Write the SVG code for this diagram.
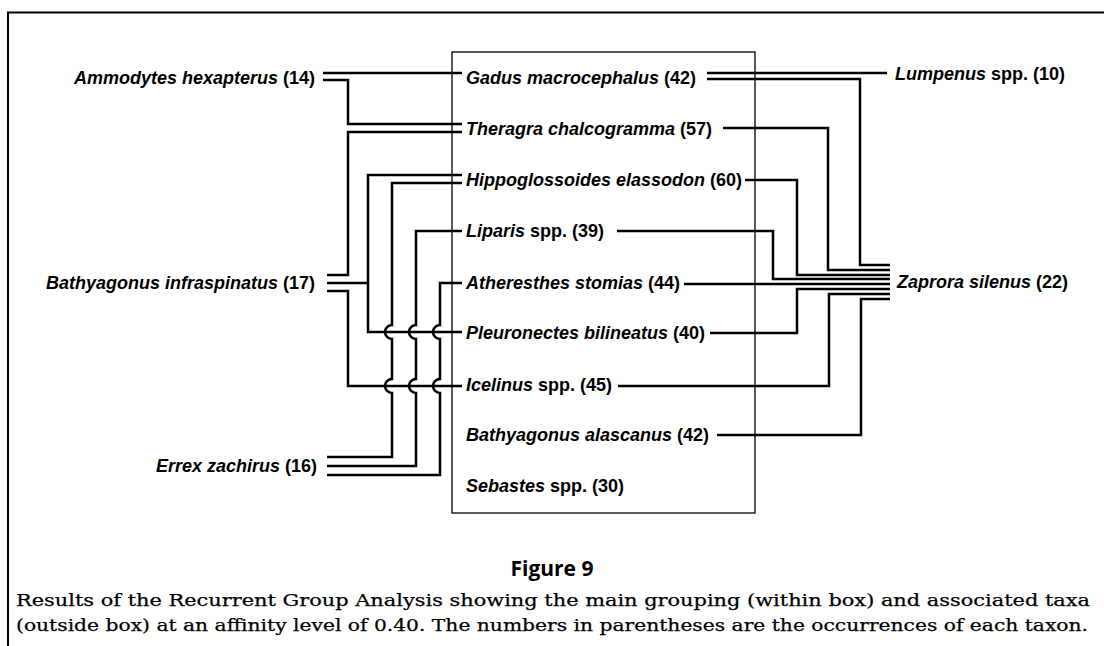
<svg xmlns="http://www.w3.org/2000/svg" width="1104" height="646" viewBox="0 0 1104 646">
<style>
.t{font-family:"Liberation Sans",Arial,sans-serif;font-size:18px;font-weight:bold;fill:#000}
.i{font-style:italic}
.c{fill:none;stroke:#000;stroke-width:2.5;stroke-linejoin:miter}
.cap{font-family:"DejaVu Serif","Liberation Serif",serif;font-size:17.5px;fill:#000;stroke:#000;stroke-width:0.25}
.fig{font-family:"Open Sans","Noto Sans",sans-serif;font-size:21px;font-weight:bold;fill:#000}
</style>
<rect width="1104" height="646" fill="#fff"/>
<g id="frame">
<path d="M8,646 V12.5 H1104" fill="none" stroke="#000" stroke-width="2"/>
<rect x="452" y="52" width="303" height="461" fill="none" stroke="#000" stroke-width="1.3"/>
</g>
<g id="connectors" class="c">
<path d="M323,73 H462"/>
<path d="M323,80 H348 V124 H462"/>
<path d="M462,132 H348 V275 H327"/>
<path d="M327,283 H368"/>
<path d="M462,175 H368 V332 H462"/>
<path d="M327,291 H348 V386 H462"/>
<path d="M462,183 H392 V325 A7,7 0 0 0 392,339 V379 A7,7 0 0 0 392,393 V457 H327"/>
<path d="M462,231 H416 V325 A7,7 0 0 0 416,339 V379 A7,7 0 0 0 416,393 V466 H327"/>
<path d="M462,283 H440 V325 A7,7 0 0 0 440,339 V379 A7,7 0 0 0 440,393 V475 H327"/>
<path d="M707,73 H887"/>
<path d="M707,79 H860 V265 H890"/>
<path d="M723,128 H828 V270 H890"/>
<path d="M745,180 H797 V275 H890"/>
<path d="M617,231 H773 V279 H890"/>
<path d="M684,284 H890"/>
<path d="M710,333 H797 V289 H890"/>
<path d="M618,386 H829 V294 H890"/>
<path d="M717,435 H861 V299 H890"/>
</g>
<g id="ammodytes"><text class="t" x="315" y="84" text-anchor="end"><tspan class="i">Ammodytes hexapterus</tspan> (14)</text></g>
<g id="bathyagonus-infraspinatus"><text class="t" x="315" y="289" text-anchor="end"><tspan class="i">Bathyagonus infraspinatus</tspan> (17)</text></g>
<g id="errex"><text class="t" x="317" y="472" text-anchor="end"><tspan class="i">Errex zachirus</tspan> (16)</text></g>
<g id="gadus"><text class="t" x="466" y="84"><tspan class="i">Gadus macrocephalus</tspan> (42)</text></g>
<g id="theragra"><text class="t" x="466" y="135"><tspan class="i">Theragra chalcogramma</tspan> (57)</text></g>
<g id="hippoglossoides"><text class="t" x="466" y="186"><tspan class="i">Hippoglossoides elassodon</tspan> (60)</text></g>
<g id="liparis"><text class="t" x="466" y="237"><tspan class="i">Liparis</tspan> spp. (39)</text></g>
<g id="atheresthes"><text class="t" x="466" y="289"><tspan class="i">Atheresthes stomias</tspan> (44)</text></g>
<g id="pleuronectes"><text class="t" x="466" y="339"><tspan class="i">Pleuronectes bilineatus</tspan> (40)</text></g>
<g id="icelinus"><text class="t" x="466" y="391"><tspan class="i">Icelinus</tspan> spp. (45)</text></g>
<g id="bathyagonus-alascanus"><text class="t" x="466" y="441"><tspan class="i">Bathyagonus alascanus</tspan> (42)</text></g>
<g id="sebastes"><text class="t" x="466" y="492"><tspan class="i">Sebastes</tspan> spp. (30)</text></g>
<g id="lumpenus"><text class="t" x="895" y="80"><tspan class="i">Lumpenus</tspan> spp. (10)</text></g>
<g id="zaprora"><text class="t" x="897" y="288"><tspan class="i">Zaprora silenus</tspan> (22)</text></g>
<g id="caption">
<text class="fig" x="552" y="576" text-anchor="middle">Figure 9</text>
<text class="cap" x="16" y="606" textLength="1074" lengthAdjust="spacingAndGlyphs">Results of the Recurrent Group Analysis showing the main grouping (within box) and associated taxa</text>
<text class="cap" x="16" y="631" textLength="1072" lengthAdjust="spacingAndGlyphs">(outside box) at an affinity level of 0.40. The numbers in parentheses are the occurrences of each taxon.</text>
</g>
</svg>
